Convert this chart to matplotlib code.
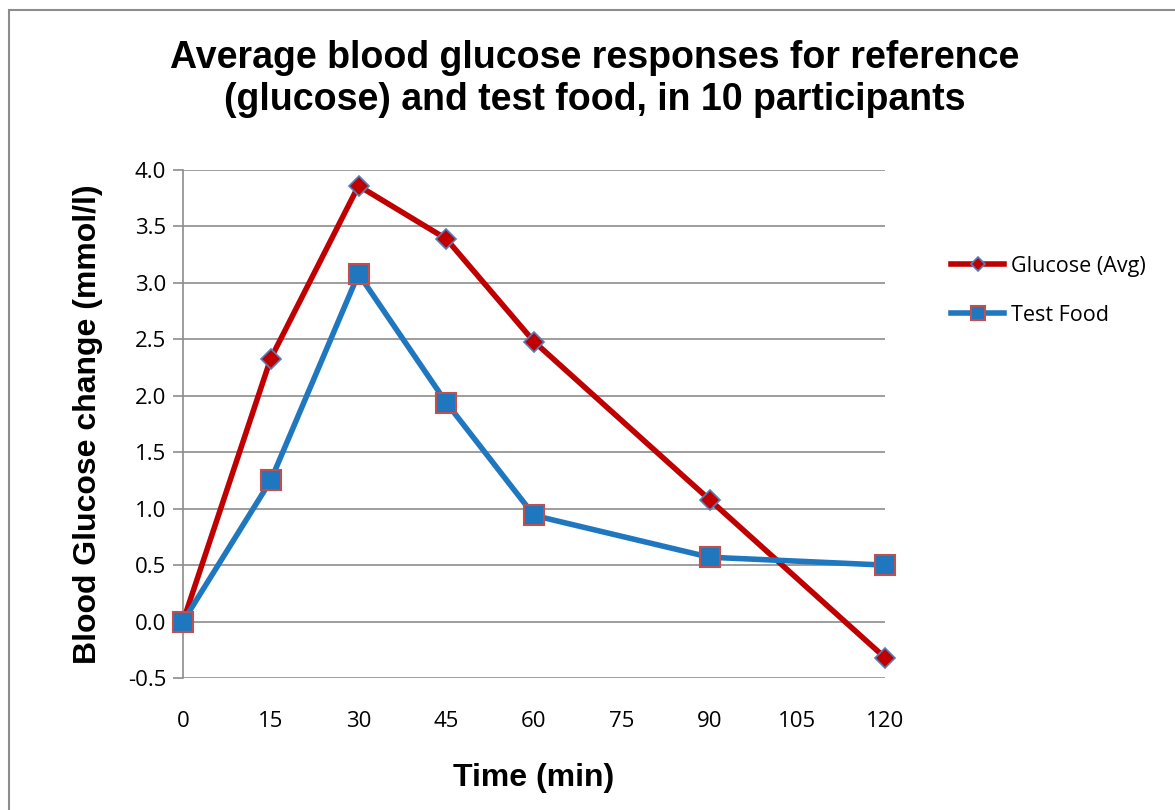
import matplotlib.pyplot as plt
from matplotlib.patches import Rectangle

# data
time_min = [0, 15, 30, 45, 60, 90, 120]
glucose_avg = [0.0, 2.33, 3.86, 3.39, 2.48, 1.08, -0.32]
test_food = [0.0, 1.25, 3.08, 1.94, 0.94, 0.57, 0.50]
x_ticks = [0, 15, 30, 45, 60, 75, 90, 105, 120]
y_ticks = [-0.5, 0.0, 0.5, 1.0, 1.5, 2.0, 2.5, 3.0, 3.5, 4.0]

fig = plt.figure(figsize=(11.75, 8.1), dpi=100)
ax = fig.add_axes([183 / 1175, 1 - 678 / 810, (885 - 183) / 1175, (678 - 170) / 810])

# outer chart frame (cut off at right and bottom)
fig.patches.append(Rectangle((9 / 1175, -0.1), 1.2, 1 - 10 / 810 + 0.1,
                             transform=fig.transFigure, fill=False,
                             edgecolor='#8c8c8c', linewidth=1.5))

ax.plot(time_min, glucose_avg, color='#c00000', linewidth=4, marker='D',
        markersize=10, markerfacecolor='#c00000', markeredgecolor='#4f81bd',
        markeredgewidth=1.2, label='Glucose (Avg)', zorder=3, clip_on=False)
ax.plot(time_min, test_food, color='#1f77c0', linewidth=4, marker='s',
        markersize=14, markerfacecolor='#1f77c0', markeredgecolor='#c0504d',
        markeredgewidth=1.5, label='Test Food', zorder=4, clip_on=False)

ax.set_xlim(0, 120)
ax.set_ylim(-0.5, 4.0)
ax.set_xticks(x_ticks)
ax.set_yticks(y_ticks)
ax.set_yticklabels([f'{v:.1f}' for v in y_ticks])
ax.grid(True, axis='y', color='#8c8c8c', linewidth=1.2)
ax.set_axisbelow(True)
for side in ['top', 'right', 'bottom']:
    ax.spines[side].set_visible(False)
ax.spines['left'].set_color('#8c8c8c')
ax.spines['left'].set_linewidth(1.2)
ax.tick_params(axis='y', length=7, color='#8c8c8c', width=1.2, pad=5)
ax.tick_params(axis='x', length=0, pad=24)
for lbl in ax.get_xticklabels() + ax.get_yticklabels():
    lbl.set_fontfamily('Open Sans')
    lbl.set_fontsize(16)

ax.set_xlabel('Time (min)', fontfamily='Liberation Sans', fontweight='bold',
              fontsize=23, labelpad=22)
ax.set_ylabel('Blood Glucose change (mmol/l)', fontfamily='Liberation Sans',
              fontweight='bold', fontsize=23, labelpad=18)

fig.text(595 / 1175, 1 - 79 / 810,
         'Average blood glucose responses for reference\n(glucose) and test food, in 10 participants',
         ha='center', va='center', fontfamily='Liberation Sans', fontweight='bold',
         fontsize=27, linespacing=1.2)

leg = ax.legend(loc='upper left', bbox_to_anchor=(942 / 1175, 1 - 247 / 810),
                bbox_transform=fig.transFigure, frameon=False, borderaxespad=0,
                prop={'family': 'Open Sans', 'size': 15.5},
                handlelength=2.5, labelspacing=1.3, handletextpad=0.3,
                markerscale=0.75)

plt.savefig('out.png', dpi=100)
